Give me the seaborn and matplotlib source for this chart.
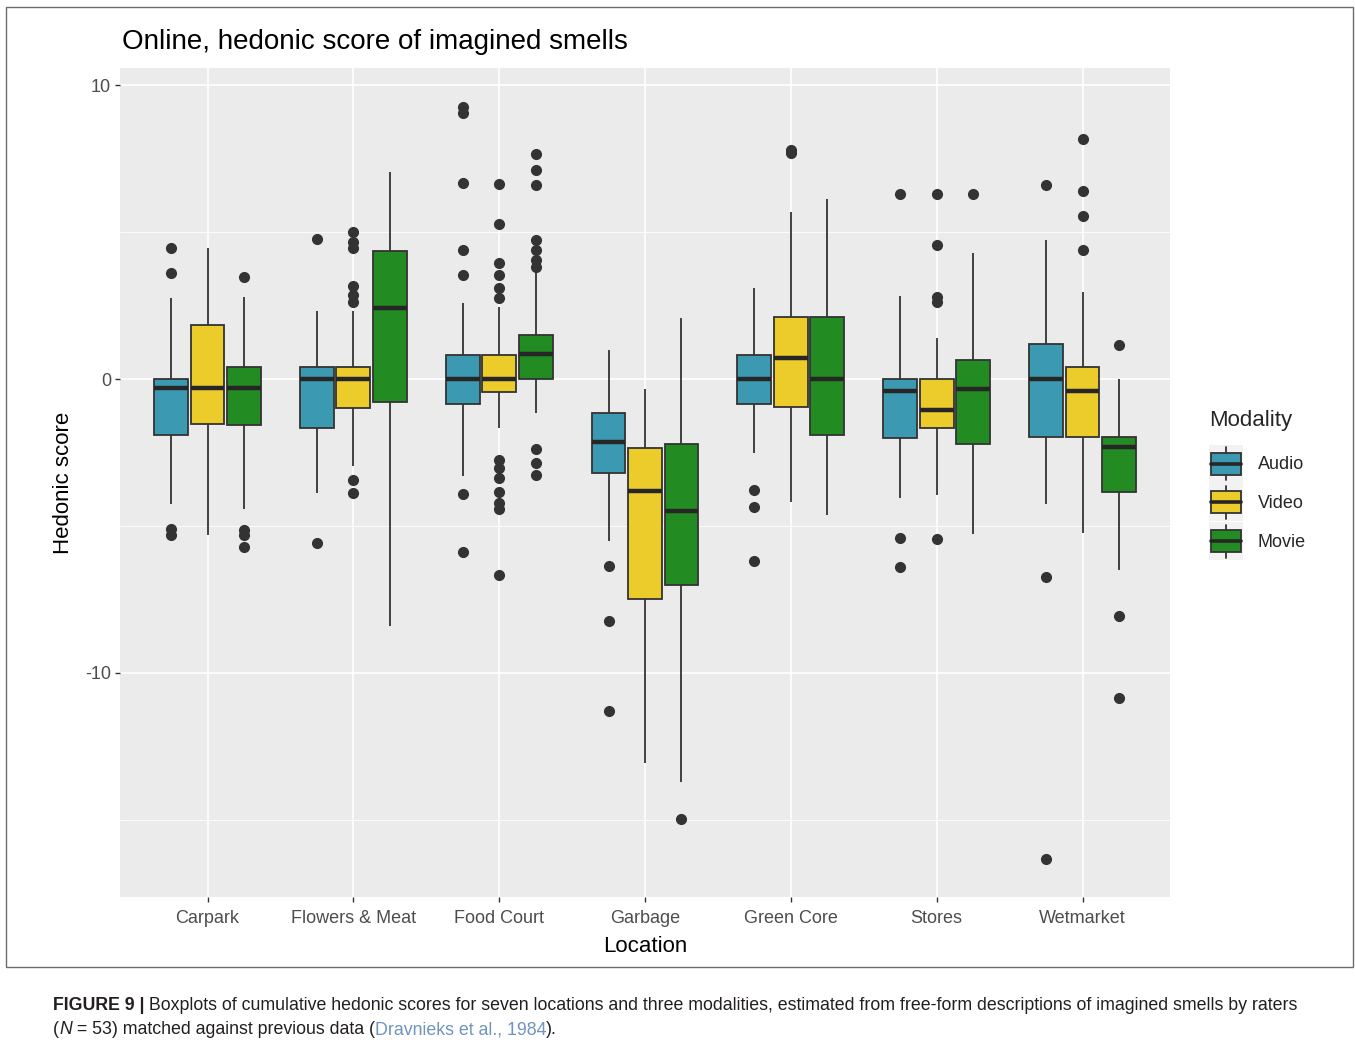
import numpy as np
import pandas as pd
import matplotlib
matplotlib.use("Agg")
import matplotlib.pyplot as plt
from matplotlib.patches import Rectangle
from matplotlib.lines import Line2D
from matplotlib.legend_handler import HandlerBase
import seaborn as sns

# categories
locations = ["Carpark", "Flowers & Meat", "Food Court", "Garbage",
             "Green Core", "Stores", "Wetmarket"]
modalities = ["Audio", "Video", "Movie"]
colors = ["#3B9AB2", "#EBCC2A", "#228B22"]

# box statistics, one row per location (Audio, Video, Movie)
whisker_low = [[-4.26, -5.32, -4.41],
               [-3.88, -2.95, -8.41],
               [-3.30, -1.68, -1.17],
               [-5.50, -13.05, -13.70],
               [-2.52, -4.19, -4.64],
               [-4.05, -3.94, -5.28],
               [-4.24, -5.24, -6.51]]
q1 = [[-1.90, -1.54, -1.56],
      [-1.68, -1.00, -0.79],
      [-0.86, -0.43, 0.00],
      [-3.20, -7.48, -7.02],
      [-0.86, -0.94, -1.90],
      [-1.99, -1.68, -2.21],
      [-1.96, -1.98, -3.83]]
median = [[-0.32, -0.32, -0.32],
          [0.00, 0.00, 2.40],
          [0.00, 0.00, 0.85],
          [-2.15, -3.80, -4.50],
          [0.00, 0.72, 0.00],
          [-0.40, -1.05, -0.35],
          [0.00, -0.40, -2.30]]
q3 = [[0.00, 1.83, 0.40],
      [0.40, 0.40, 4.36],
      [0.81, 0.81, 1.49],
      [-1.17, -2.35, -2.21],
      [0.81, 2.12, 2.12],
      [0.00, 0.00, 0.65],
      [1.18, 0.42, -1.98]]
whisker_high = [[2.75, 4.44, 2.80],
                [2.32, 2.32, 7.04],
                [2.57, 2.46, 3.64],
                [0.98, -0.35, 2.07],
                [3.08, 5.68, 6.13],
                [2.82, 1.41, 4.27],
                [4.72, 2.97, 0.00]]
outliers = [
    [[4.44, 3.59, -5.10, -5.30], [], [3.47, -5.13, -5.30, -5.72]],
    [[4.78, -5.58], [5.00, 4.66, 4.44, 3.16, 2.85, 2.62, -3.43, -3.88], []],
    [[9.25, 9.05, 6.68, 4.38, 3.53, -3.92, -5.89],
     [6.62, 5.26, 3.96, 3.53, 3.08, 2.74, -2.75, -3.03, -3.37, -3.83, -4.22, -4.41, -6.66],
     [7.66, 7.12, 6.59, 4.72, 4.38, 4.04, 3.80, -2.39, -2.84, -3.26]],
    [[-6.37, -8.22, -11.30], [], [-14.97]],
    [[-3.77, -4.37, -6.20], [7.78, 7.68], []],
    [[6.30, -5.41, -6.40], [6.30, 4.57, 2.80, 2.62, -5.45], [6.30]],
    [[6.59, -6.72, -16.33], [8.17, 6.39, 5.55, 4.38], [1.15, -8.07, -10.84]],
]

LINE = "#333333"


def build_frame():
    # rebuild a sample per box that reproduces the read quartiles / whiskers
    rows = []
    m = 30
    for i, loc in enumerate(locations):
        for j, mod in enumerate(modalities):
            vals = (list(outliers[i][j]) + [whisker_low[i][j]]
                    + [q1[i][j]] * m + [median[i][j]] * m + [q3[i][j]] * m
                    + [whisker_high[i][j]])
            rows += [(loc, mod, v) for v in vals]
    return pd.DataFrame(rows, columns=["Location", "Modality", "score"])


class BoxKey(HandlerBase):
    # ggplot style legend key: grey cell, small box with median and whiskers
    def create_artists(self, legend, orig_handle, xdescent, ydescent,
                       width, height, fontsize, trans):
        x0, y0 = -xdescent, -ydescent
        bg = Rectangle((x0, y0), width, height, facecolor="#F2F2F2",
                       edgecolor="none", transform=trans)
        bh = height * 0.58
        by = y0 + (height - bh) / 2
        bx, bw = x0 + width * 0.06, width * 0.88
        xm = x0 + width / 2
        lo = Line2D([xm, xm], [y0 + height * 0.06, by], color=LINE, lw=1.3,
                    transform=trans)
        hi = Line2D([xm, xm], [by + bh, y0 + height * 0.94], color=LINE, lw=1.3,
                    transform=trans)
        box = Rectangle((bx, by), bw, bh, facecolor=orig_handle.get_facecolor(),
                        edgecolor=LINE, lw=1.3, transform=trans)
        med = Line2D([bx, bx + bw], [by + bh / 2] * 2, color="#262626", lw=2.6,
                     transform=trans)
        return [bg, lo, hi, box, med]


def text_width(fig, renderer, s, kw):
    # bars on both sides keep leading / trailing spaces in the measure
    a = fig.text(0, 0, "|" + s + "|", **kw)
    b = fig.text(0, 0, "||", **kw)
    w = a.get_window_extent(renderer).width - b.get_window_extent(renderer).width
    a.remove()
    b.remove()
    return w


def text_runs(fig, x, y, runs):
    renderer = fig.canvas.get_renderer()
    W = fig.get_figwidth() * fig.dpi
    for s, kw in runs:
        fig.text(x, y, s, va="center", ha="left", **kw)
        x += text_width(fig, renderer, s, kw) / W


def main():
    df = build_frame()

    sns.set_theme(style="darkgrid", rc={
        "axes.facecolor": "#EBEBEB",
        "grid.color": "white",
        "axes.unicode_minus": False,
    })
    plt.rcParams["font.family"] = ["Liberation Sans", "DejaVu Sans"]

    fig = plt.figure(figsize=(13.55, 10.47), dpi=100)
    fig.patch.set_facecolor("white")
    ax = fig.add_axes([120 / 1355, 1 - 897 / 1047, 1050 / 1355, 829 / 1047])

    sns.boxplot(data=df, x="Location", y="score", hue="Modality",
                order=locations, hue_order=modalities, palette=colors,
                saturation=1, width=0.75, gap=0.07, whis=1.5,
                linecolor=LINE, linewidth=1.3, fliersize=7,
                showcaps=False,
                medianprops=dict(linewidth=3.2, color="#262626"),
                flierprops=dict(marker="o", markerfacecolor=LINE,
                                markeredgecolor=LINE),
                ax=ax)

    ax.set_xlim(-0.6, 6.6)
    ax.set_ylim(-17.62, 10.58)
    ax.set_yticks([-10, 0, 10])
    ax.set_yticks([-15, -5, 5], minor=True)
    ax.grid(which="major", color="white", linewidth=1.2)
    ax.grid(which="minor", axis="y", color="white", linewidth=0.6)
    ax.set_axisbelow(True)
    for sp in ax.spines.values():
        sp.set_visible(False)
    ax.tick_params(which="major", length=3.5, width=1, color=LINE,
                   labelsize=13, labelcolor="#4D4D4D", pad=3,
                   bottom=True, left=True)
    ax.tick_params(axis="x", pad=6)
    ax.tick_params(which="minor", length=0)

    ax.set_xlabel("Location", fontsize=16, color="black", labelpad=6)
    ax.set_ylabel("Hedonic score", fontsize=16, color="black", labelpad=8)

    old = ax.get_legend()
    handles = old.legend_handles
    labels = [t.get_text() for t in old.get_texts()]
    old.remove()
    leg = ax.legend(handles, labels, handler_map={type(h): BoxKey() for h in handles},
                    loc="center left", bbox_to_anchor=(1.03, 0.497), frameon=False,
                    title="Modality", fontsize=13, title_fontsize=16,
                    alignment="left", handlelength=1.9, handleheight=2.85,
                    labelspacing=0.05, handletextpad=0.8, borderaxespad=0)
    leg._legend_box.sep = 10

    fig.text(122 / 1355, 1 - 42 / 1047, "Online, hedonic score of imagined smells",
             fontsize=20, va="center", ha="left", color="black")

    # frame around the chart
    fig.patches.append(Rectangle((6 / 1355, 1 - 967 / 1047), 1347 / 1355, 960 / 1047,
                                 transform=fig.transFigure, fill=False,
                                 edgecolor="#6B6B6B", linewidth=1))

    # caption
    cap = dict(fontsize=12.8, color="#231F20")
    text_runs(fig, 53 / 1355, 1 - 1006 / 1047, [
        ("FIGURE 9 |", dict(cap, fontweight="bold")),
        (" Boxplots of cumulative hedonic scores for seven locations and three "
         "modalities, estimated from free-form descriptions of imagined smells "
         "by raters", cap),
    ])
    text_runs(fig, 53 / 1355, 1 - 1030 / 1047, [
        ("(", cap),
        ("N", dict(cap, fontstyle="italic")),
        (" = 53) matched against previous data (", cap),
        ("Dravnieks et al., 1984", dict(cap, color="#6F93BE")),
        (").", cap),
    ])

    fig.savefig("out.png", dpi=100)
    plt.close(fig)


if __name__ == "__main__":
    main()
